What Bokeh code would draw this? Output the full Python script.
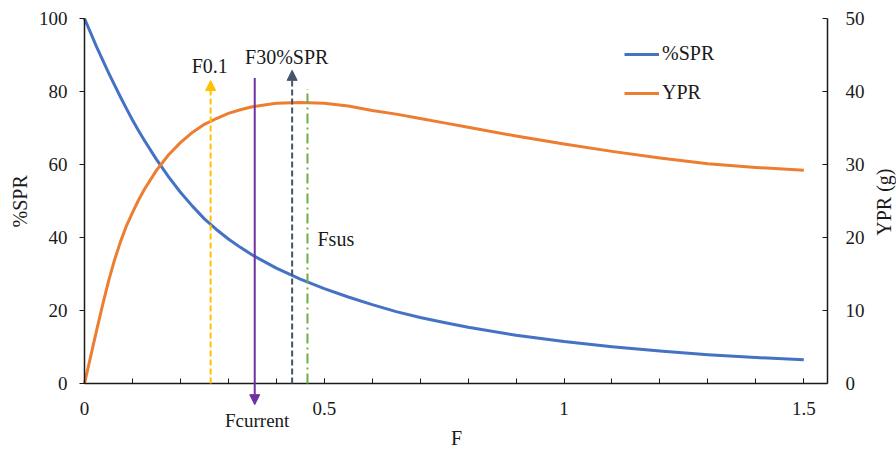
import math
from bokeh.plotting import figure
from bokeh.models import (Range1d, LinearAxis, FixedTicker, Legend, LegendItem,
                          Arrow, NormalHead, Label, CustomJSTickFormatter)
from bokeh.embed import file_html
from bokeh.resources import INLINE

# ---- data ----
F = [0, 0.025, 0.0375, 0.05, 0.0625, 0.075, 0.0875, 0.1, 0.1125, 0.125, 0.15,
     0.175, 0.2, 0.225, 0.25, 0.275, 0.3, 0.325, 0.35, 0.4, 0.45, 0.5, 0.55,
     0.6, 0.65, 0.7, 0.75, 0.8, 0.9, 1.0, 1.1, 1.2, 1.3, 1.4, 1.5]
spr = [100, 92.3, 88.7, 85.2, 81.8, 78.5, 75.3, 72.2, 69.3, 66.6, 61.4,
       56.7, 52.4, 48.6, 45.1, 42.2, 39.6, 37.3, 35.2, 31.6, 28.6, 26.0, 23.7,
       21.6, 19.7, 18.1, 16.7, 15.4, 13.2, 11.5, 10.1, 8.9, 7.9, 7.1, 6.5]
ypr = [0, 7.2, 10.7, 14.0, 16.9, 19.4, 21.6, 23.4, 25.1, 26.6, 29.2,
       31.3, 33.0, 34.4, 35.5, 36.3, 37.0, 37.5, 37.9, 38.4, 38.5, 38.4, 38.0,
       37.4, 36.9, 36.3, 35.7, 35.1, 33.9, 32.8, 31.8, 30.9, 30.1, 29.6, 29.2]

series_names = ["%SPR", "YPR"]

ref_names = ["F0.1", "Fcurrent", "F30%SPR", "Fsus"]
ref_F = [0.263, 0.355, 0.433, 0.465]
ref_start = [0, 83.7, 0, 0]
ref_end = [83.0, -5.8, 85.8, 80.7]

x_ticks = [0, 0.5, 1, 1.5]
x_tick_labels = ["0", "0.5", "1", "1.5"]
x_minor = [i / 10 for i in range(16)]
y_left_ticks = [0, 20, 40, 60, 80, 100]
y_right_ticks = [0, 10, 20, 30, 40, 50]

x_title, y_title, y2_title = "F", "%SPR", "YPR (g)"

FONT = "Liberation Serif"
BLUE = "#4472C4"
ORANGE = "#ED7D31"
INK = "#1a1a1a"

# ---- layout (pixel geometry of the plotting area) ----
W, H = 896, 449
X0, X15 = 84.0, 803.3          # pixel of F=0 and F=1.5
Y0, Y100 = 383.0, 18.0         # pixel of %SPR=0 and 100
XRIGHT = 827.0                 # right axis position
kx = (X15 - X0) / 1.5
ky = (Y0 - Y100) / 100.0
x_lo, x_hi = -X0 / kx, (W - X0) / kx
y_lo, y_hi = -(H - Y0) / ky, Y0 / ky
x_right = (XRIGHT - X0) / kx

p = figure(width=W, height=H, output_backend="svg", toolbar_location=None,
           x_range=Range1d(x_lo, x_hi), y_range=Range1d(y_lo, y_hi),
           x_axis_location=None, y_axis_location=None, min_border=0)
p.outline_line_color = None
p.xgrid.visible = False
p.ygrid.visible = False
p.extra_y_ranges = {"ypr": Range1d(y_lo / 2, y_hi / 2)}

r1 = p.line(F, spr, line_color=BLUE, line_width=3, line_join="round")
r2 = p.line(F, ypr, line_color=ORANGE, line_width=3, line_join="round",
            y_range_name="ypr")

# reference lines
styles = [
    dict(color="#FFC000", dash="6 3", head=True),
    dict(color="#7030A0", dash="solid", head=True),
    dict(color="#44546A", dash="6 3", head=True),
    dict(color="#70AD47", dash="10 4 2 4", head=False),
]
for fx, s0, s1, st in zip(ref_F, ref_start, ref_end, styles):
    head = NormalHead(size=10, fill_color=st["color"], line_color=st["color"]) if st["head"] else None
    p.add_layout(Arrow(x_start=fx, y_start=s0, x_end=fx, y_end=s1, end=head,
                       line_color=st["color"], line_width=2, line_dash=st["dash"]))

label_pos = [(0.2611, 87.1), (0.3601, -10.1), (0.4217, 89.4), (0.5241, 39.6)]
label_size = ["20px", "19px", "20px", "20px"]
for name, (lx, ly), fs in zip(ref_names, label_pos, label_size):
    p.add_layout(Label(x=lx, y=ly, text=name, text_font=FONT, text_font_size=fs,
                       text_color=INK, text_align="center", text_baseline="middle"))

# axis titles
title_specs = [(x_title, 0.7758, -14.8, 0.0), (y_title, -0.1351, 49.9, math.pi / 2),
               (y2_title, 1.6675, 49.7, math.pi / 2)]
for t, tx, ty, ang in title_specs:
    p.add_layout(Label(x=tx, y=ty, text=t, angle=ang, text_font=FONT, text_font_size="20px",
                       text_color=INK, text_align="center", text_baseline="middle"))

# axes
def style_axis(ax):
    ax.axis_line_color = INK
    ax.axis_line_width = 1.5
    ax.major_tick_line_color = INK
    ax.minor_tick_line_color = INK
    ax.major_label_text_font = FONT
    ax.major_label_text_font_size = "19px"
    ax.major_label_text_color = INK

xa = LinearAxis(fixed_location=0, bounds=(0, x_right))
style_axis(xa)
xa.ticker = FixedTicker(ticks=x_ticks, minor_ticks=x_minor)
xa.formatter = CustomJSTickFormatter(args=dict(xt=x_ticks, xl=x_tick_labels),
                                     code="const i = xt.indexOf(tick); return i >= 0 ? xl[i] : String(tick);")
xa.major_tick_in = 5
xa.major_tick_out = 0
xa.minor_tick_in = 5
xa.minor_tick_out = 0
xa.major_label_standoff = 18
p.add_layout(xa, "below")

ya = LinearAxis(fixed_location=0, bounds=(0, 100))
style_axis(ya)
ya.ticker = FixedTicker(ticks=y_left_ticks)
ya.major_tick_in = 0
ya.major_tick_out = 5
ya.minor_tick_in = 0
ya.minor_tick_out = 0
ya.major_label_standoff = 12
p.add_layout(ya, "left")

yr = LinearAxis(y_range_name="ypr", fixed_location=x_right, bounds=(0, 50))
style_axis(yr)
yr.ticker = FixedTicker(ticks=y_right_ticks)
yr.major_tick_in = 5
yr.major_tick_out = 0
yr.minor_tick_in = 0
yr.minor_tick_out = 0
yr.major_label_standoff = 18
p.add_layout(yr, "right")

legend = Legend(items=[LegendItem(label=series_names[0], renderers=[r1]),
                       LegendItem(label=series_names[1], renderers=[r2])],
                location=(624, 345), orientation="vertical",
                label_text_font=FONT, label_text_font_size="20px",
                label_text_color=INK,
                glyph_width=35, glyph_height=20, label_height=20,
                spacing=16, padding=0, margin=0, label_standoff=3,
                border_line_color=None, background_fill_alpha=0)
p.add_layout(legend, "center")

open("out.html", "w").write(file_html(p, INLINE))
